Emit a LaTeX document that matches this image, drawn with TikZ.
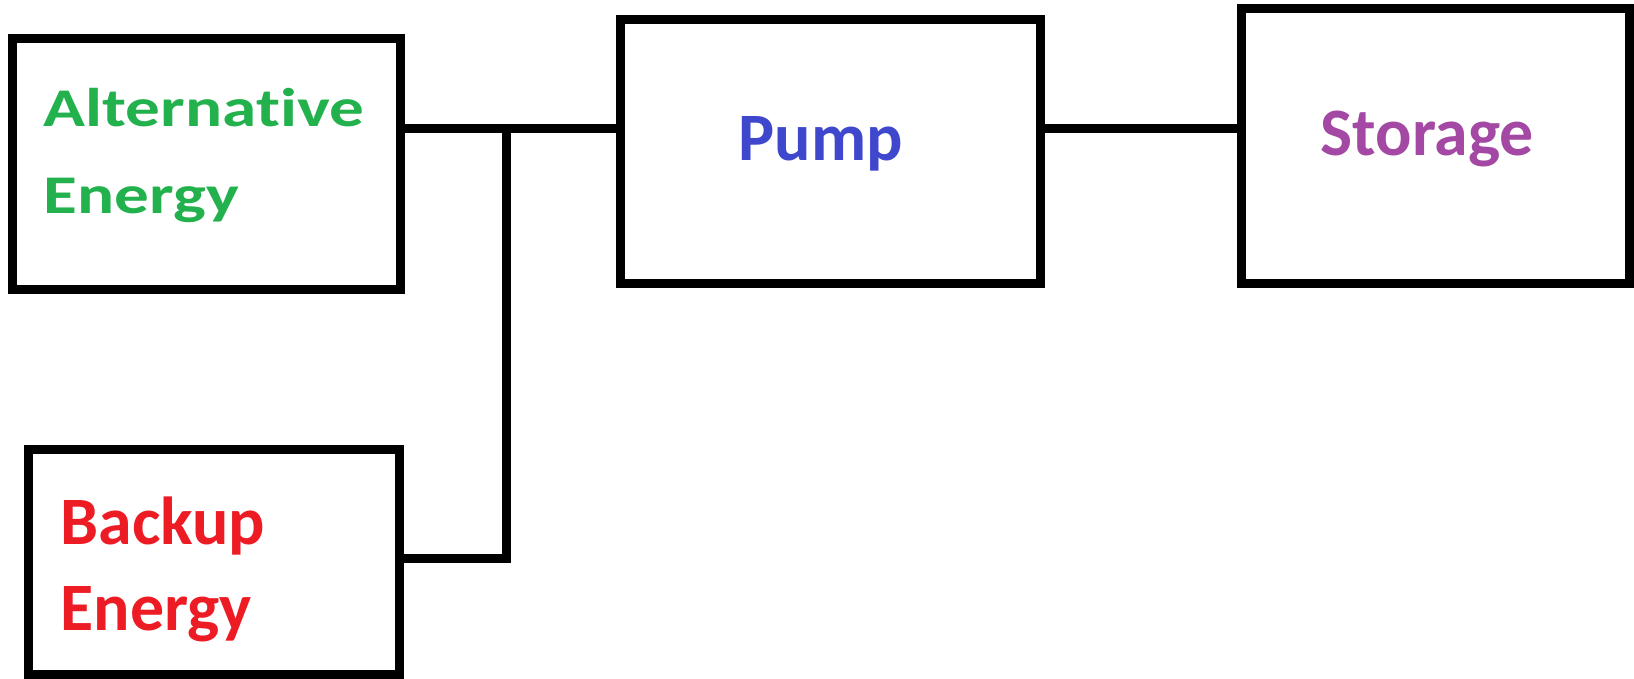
\documentclass[tikz,border=0pt]{standalone}
\usepackage{fontspec}
\setmainfont{Carlito}[Ligatures=CommonOff]
\newfontfamily\widefont{Carlito}[Ligatures=CommonOff, FakeStretch=1.27]
\usepackage{tikz}
\usetikzlibrary{positioning,calc}
\usepackage{xcolor}
\definecolor{altgreen}{HTML}{22B14C}
\definecolor{backred}{HTML}{ED1C24}
\definecolor{pumpblue}{HTML}{3F48CC}
\definecolor{storepurple}{HTML}{A349A4}

\begin{document}
\begin{tikzpicture}[x=0.01cm, y=-0.01cm,
    block/.style={draw, line width=2.56pt, rectangle, inner sep=0pt},
    wire/.style={line width=2.56pt},
    tag/.style={anchor=base west, inner sep=0pt, align=left,
      font=\bfseries\fontsize{19.3}{24.2}\selectfont}]
        \useasboundingbox (0,0) rectangle (1634,678);
        \node[block, minimum width=3.88cm, minimum height=2.51cm] (alt) at (206.5,164) {};
        \node[block, minimum width=3.715cm, minimum height=2.245cm] (backup) at (214,562) {};
        \node[block, minimum width=4.20cm, minimum height=2.635cm] (pump) at (830.5,151.75) {};
        \node[block, minimum width=3.88cm, minimum height=2.75cm] (storage) at (1435.5,146) {};
        % base anchor sits on the last line
        \node[tag, altgreen, font=\widefont\bfseries\fontsize{15.5}{24.5}\selectfont]
          (alttxt) at (43,213) {Alternative\\Energy};
        \node[tag, backred] (backtxt) at (60,630) {Backup\\Energy};
        \node[tag, pumpblue] (pumptxt) at (738,160) {Pump};
        \node[tag, storepurple] (storetxt) at (1320,155) {Storage};
        \coordinate (j) at (506,128.5);
        \coordinate (jb) at (506,558);
        \draw[wire] (j -| alt.east) -- (j -| pump.west);
        \draw[wire] (j) -- (jb) -- (jb -| backup.east);
        \draw[wire] (pump.east |- j) -- (storage.west |- j);
      \end{tikzpicture}
\end{document}
